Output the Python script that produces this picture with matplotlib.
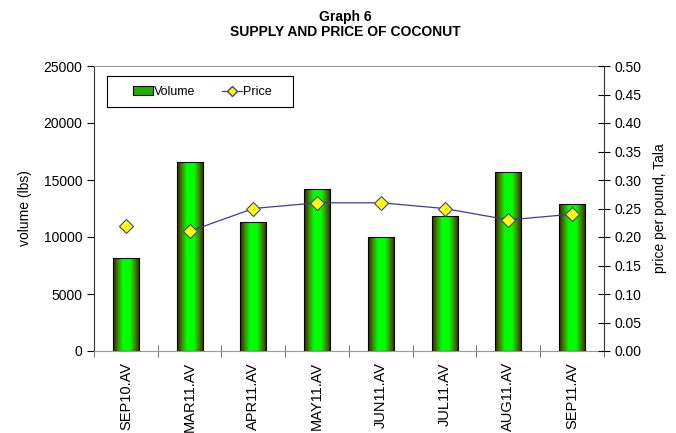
import numpy as np
import matplotlib.pyplot as plt
from matplotlib.colors import LinearSegmentedColormap
from matplotlib.lines import Line2D
from matplotlib.patches import Patch, Rectangle

plt.rcParams['font.family'] = ['Liberation Sans', 'DejaVu Sans']

months = ['SEP10.AV', 'MAR11.AV', 'APR11.AV', 'MAY11.AV',
          'JUN11.AV', 'JUL11.AV', 'AUG11.AV', 'SEP11.AV']
volume = [8200, 16600, 11300, 14200, 10000, 11800, 15700, 12900]
price = [0.22, 0.21, 0.25, 0.26, 0.26, 0.25, 0.23, 0.24]

# dark edge -> bright green centre -> dark edge
grad = LinearSegmentedColormap.from_list(
    'bar', [(0.0, '#3a2200'), (0.18, '#3c8a00'), (0.36, '#00ff00'),
            (0.64, '#00ff00'), (0.82, '#3c8a00'), (1.0, '#3a2200')])

W, H = 676, 433


def main():
    fig = plt.figure(figsize=(W / 100, H / 100), dpi=100)
    ax = fig.add_axes([94 / W, 1 - 351 / H, 510 / W, 285 / H])
    ax2 = ax.twinx()

    x = np.arange(len(months))
    width = 0.41
    bars = ax.bar(x, volume, width=width, color='none', edgecolor='black',
                  linewidth=0.8, zorder=3)
    g = np.linspace(0, 1, 64).reshape(1, -1)
    for b in bars:
        im = ax.imshow(g, cmap=grad, aspect='auto', zorder=2,
                       extent=[b.get_x(), b.get_x() + b.get_width(), 0, b.get_height()])
        im.set_clip_path(b)

    ax.set_xlim(-0.5, len(months) - 0.5)
    ax.set_ylim(0, 25000)
    ax.set_yticks(np.arange(0, 25001, 5000))
    ax.set_xticks(x)
    ax.set_xticklabels(months, rotation=90, fontsize=10.5)
    ax.set_xticks(np.arange(-0.5, len(months)), minor=True)
    ax.tick_params(axis='x', which='major', length=0, pad=8)
    ax.tick_params(axis='x', which='minor', length=8, direction='inout', color='#555555')
    ax.tick_params(axis='y', labelsize=10, length=5, direction='out')
    ax.set_ylabel('volume (lbs)', fontsize=10, labelpad=8)

    for s in ['top', 'bottom']:
        ax.spines[s].set_color('#999999')
    ax.spines['left'].set_color('#333333')
    ax.spines['right'].set_visible(False)
    for s in ['top', 'bottom', 'left']:
        ax2.spines[s].set_visible(False)
    ax2.spines['right'].set_color('#333333')

    # first point stands on its own, the rest are joined
    ax2.plot(x[:1], price[:1], linestyle='none', marker='D', markersize=7,
             markerfacecolor='#ffff00', markeredgecolor='#4040a0', markeredgewidth=0.8, zorder=5)
    ax2.plot(x[1:], price[1:], color='#3c3ca0', linewidth=0.9, marker='D', markersize=7,
             markerfacecolor='#ffff00', markeredgecolor='#4040a0', markeredgewidth=0.8, zorder=5)
    ax2.set_ylim(0, 0.5)
    ax2.set_yticks(np.arange(0, 0.501, 0.05))
    ax2.set_yticklabels(['%.2f' % v for v in np.arange(0, 0.501, 0.05)])
    ax2.tick_params(axis='y', labelsize=10, length=8, direction='inout')
    ax2.set_ylabel('price per pound, Tala', fontsize=10, labelpad=8)

    # legend frame drawn separately so the entries can sit with a wide left margin
    fig.patches.append(Rectangle((107 / W, 1 - 107 / H), 186 / W, 31 / H,
                                 transform=fig.transFigure, facecolor='white',
                                 edgecolor='black', linewidth=0.8, zorder=6))
    handles = [Patch(facecolor='#20b000', edgecolor='black', linewidth=0.8),
               Line2D([], [], color='#3c3ca0', linewidth=0.9, marker='D', markersize=5,
                      markerfacecolor='#ffff00', markeredgecolor='#4040a0')]
    leg = fig.legend(handles, ['Volume', 'Price'], loc='center left', ncol=2,
                     bbox_to_anchor=(133 / W, 1 - 92 / H), borderaxespad=0,
                     borderpad=0, fontsize=9, frameon=False,
                     handlelength=1.6, columnspacing=2.1, handletextpad=0.1)
    leg.set_zorder(7)

    fig.text(345 / W, 1 - 17 / H, 'Graph 6', ha='center', va='center',
             fontsize=10, fontweight='bold')
    fig.text(345 / W, 1 - 32 / H, 'SUPPLY AND PRICE OF COCONUT', ha='center',
             va='center', fontsize=10, fontweight='bold')

    fig.savefig('out.png', dpi=100)


if __name__ == "__main__":
    main()
